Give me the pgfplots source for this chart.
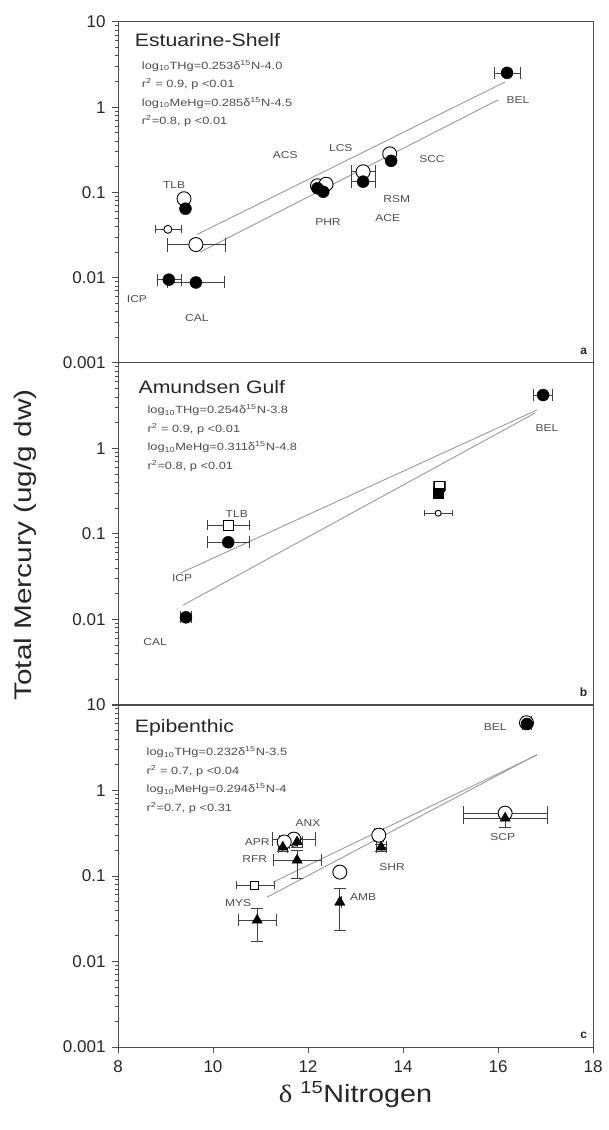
\documentclass[border=0pt]{standalone}
\usepackage{pgfplots}
\pgfplotsset{compat=1.18}
\usepackage{graphicx}
\usepackage{fontspec}
\setmainfont{Liberation Sans}
\newfontfamily\seriffont{Liberation Serif}
\definecolor{axgray}{gray}{0.3}
\definecolor{labgray}{gray}{0.3}
\definecolor{reggray}{gray}{0.6}
\newcommand\sx[2][1.2]{\scalebox{#1}[1]{#2}}
\newcommand\eqblock[4]{\sx[1.22]{\begin{tabular}{@{}l@{}}#1\\#2\\#3\\#4\end{tabular}}}
\tikzset{
  mylab/.style={font=\fontsize{10}{10}\selectfont, text=labgray},
  myttl/.style={anchor=base west, font=\fontsize{18}{18}\selectfont, text=black!85},
  myeqn/.style={anchor=north west, inner sep=0pt, font=\fontsize{10.5}{18.5}\selectfont, text=labgray},
  mytag/.style={anchor=south east, font=\bfseries\fontsize{12}{12}\selectfont, text=black!85},
}
\pgfplotsset{
  every axis/.append style={
    scale only axis, width=475pt, height=342pt,
    xmin=8, xmax=18, ymin=0.001, ymax=10,
    ytick={0.001,0.01,0.1,1,10},
    tick align=outside, xtick pos=bottom, ytick pos=left,
    major tick length=6pt,
    axis line style={axgray, line width=1pt},
    tick style={axgray, line width=1pt},
    tick label style={font=\fontsize{17}{17}\selectfont, text=black!85},
    yticklabel style={xshift=-3pt},
    xticklabel style={yshift=-4pt},
    clip=false,
  },
  /pgfplots/myreg/.style={reggray, line width=0.9pt, no marks},
  /pgfplots/myfc/.style={only marks, mark=*, mark size=6pt, black},
  /pgfplots/myoc/.style={only marks, mark=*, mark size=7pt, black, mark options={draw=black, fill=white, line width=0.9pt}},
  /pgfplots/myft/.style={only marks, mark=triangle*, mark size=6pt, black},
  /pgfplots/myos/.style={only marks, mark=square*, mark size=5pt, black, mark options={draw=black, fill=white, line width=0.9pt}},
}
\begin{document}
\begin{tikzpicture}
\path[use as bounding box] (0,0) rectangle (608pt,1130pt);

% ---------------- Panel a ----------------
\begin{semilogyaxis}[at={(118pt,767pt)}, anchor=south west, height=341pt,
  xtick=\empty, yticklabels={0.001,0.01,0.1,1,10}]
\addplot[myreg] coordinates {(9.66,0.0321) (16.15,1.98)};
\addplot[myreg] coordinates {(9.73,0.020) (16.0,1.22)};
\addplot[myoc, error bars/.cd, x dir=both, x explicit, error bar style={black!75, line width=0.7pt}] table[x=x,y=y,x error=ex] {
x y ex
9.64 0.0245 0.61
13.16 0.175 0.25
};
\addplot[myoc, mark size=4pt, error bars/.cd, x dir=both, x explicit, error bar style={black!75, line width=0.7pt}] table[x=x,y=y,x error=ex] {
x y ex
9.05 0.037 0.27
};
\addplot[myoc] table {
x y
13.72 0.284
12.2 0.12
12.38 0.125
9.39 0.0845
};
\addplot[myfc, error bars/.cd, x dir=both, x explicit, error bar style={black!75, line width=0.7pt}] table[x=x,y=y,x error=ex] {
x y ex
16.19 2.53 0.27
9.64 0.0088 0.6
9.07 0.0095 0.25
13.16 0.134 0.25
};
\addplot[myfc] table {
x y
13.75 0.235
12.32 0.102
12.2 0.112
9.42 0.0645
};
\node[myttl] at (rel axis cs:0.028,0.927) {\sx[1.18]{Estuarine-Shelf}};
\node[myeqn] at (rel axis cs:0.05,0.9) {\eqblock{log\textsubscript{10}THg=0.253δ\textsuperscript{15}N-4.0}{r\textsuperscript{2} = 0.9, p <0.01}{log\textsubscript{10}MeHg=0.285δ\textsuperscript{15}N-4.5}{r\textsuperscript{2}=0.8, p <0.01}};
\node[mylab] at (axis cs:16.42,1.22) {\sx{BEL}};
\node[mylab] at (axis cs:14.61,0.249) {\sx{SCC}};
\node[mylab] at (axis cs:13.87,0.0845) {\sx{RSM}};
\node[mylab] at (axis cs:13.68,0.0507) {\sx{ACE}};
\node[mylab] at (axis cs:12.42,0.0455) {\sx{PHR}};
\node[mylab] at (axis cs:11.52,0.277) {\sx{ACS}};
\node[mylab] at (axis cs:12.69,0.335) {\sx{LCS}};
\node[mylab] at (axis cs:9.18,0.123) {\sx{TLB}};
\node[mylab] at (axis cs:8.4,0.00556) {\sx{ICP}};
\node[mylab] at (axis cs:9.66,0.00333) {\sx{CAL}};
\node[mytag] at (rel axis cs:0.995,0.015) {a};
\end{semilogyaxis}

% ---------------- Panel b ----------------
\begin{semilogyaxis}[at={(118pt,425pt)}, anchor=south west,
  xtick=\empty, yticklabels={,0.01,0.1,1,}]
\addplot[myreg] coordinates {(9.31,0.0348) (16.82,2.82)};
\addplot[myreg] coordinates {(9.37,0.0147) (16.78,2.60)};
\addplot[myos, error bars/.cd, x dir=both, x explicit, error bar style={black!75, line width=0.7pt}] table[x=x,y=y,x error=ex] {
x y ex
10.32 0.127 0.45
14.76 0.363 0.12
};
\addplot[myoc, mark size=3pt, error bars/.cd, x dir=both, x explicit, error bar style={black!75, line width=0.7pt}] table[x=x,y=y,x error=ex] {
x y ex
14.74 0.175 0.3
};
\addplot[myfc, error bars/.cd, x dir=both, x explicit, error bar style={black!75, line width=0.7pt}] table[x=x,y=y,x error=ex] {
x y ex
16.95 4.22 0.2
10.32 0.080 0.45
9.43 0.0106 0.12
};
\addplot[only marks, mark=square*, mark size=5pt, black] table {
x y
14.74 0.30
};
\node[myttl] at (rel axis cs:0.036,0.912) {\sx[1.18]{Amundsen Gulf}};
\node[myeqn] at (rel axis cs:0.062,0.89) {\eqblock{log\textsubscript{10}THg=0.254δ\textsuperscript{15}N-3.8}{r\textsuperscript{2} = 0.9, p <0.01}{log\textsubscript{10}MeHg=0.311δ\textsuperscript{15}N-4.8}{r\textsuperscript{2}=0.8, p <0.01}};
\node[mylab] at (axis cs:17.03,1.73) {\sx{BEL}};
\node[mylab] at (axis cs:10.5,0.171) {\sx{TLB}};
\node[mylab] at (axis cs:9.35,0.0304) {\sx{ICP}};
\node[mylab] at (axis cs:8.78,0.0054) {\sx{CAL}};
\node[mytag] at (rel axis cs:0.995,0.015) {b};
\end{semilogyaxis}

% ---------------- Panel c ----------------
\begin{semilogyaxis}[at={(118pt,83pt)}, anchor=south west,
  xtick={8,10,12,14,16,18}, xticklabels={8,10,12,14,16,18},
  yticklabels={0.001,0.01,0.1,1,10},
  xlabel={\sx[1.15]{{\seriffont δ} \textsuperscript{15}Nitrogen}},
  xlabel style={font=\fontsize{25}{25}\selectfont, text=black!85, yshift=-2pt}]
\addplot[myreg] coordinates {(11.26,0.0845) (16.82,2.60)};
\addplot[myreg] coordinates {(11.14,0.0565) (16.82,2.63)};
\addplot[myoc, error bars/.cd, x dir=both, x explicit, error bar style={black!75, line width=0.7pt}] table[x=x,y=y,x error=ex] {
x y ex
16.6 6.2 0.1
16.15 0.543 0.88
13.49 0.30 0.1
11.7 0.27 0.45
11.5 0.25 0.1
12.67 0.111 0.05
};
\addplot[myos, mark size=4pt, error bars/.cd, x dir=both, x explicit, error bar style={black!75, line width=0.7pt}] table[x=x,y=y,x error=ex] {
x y ex
10.88 0.078 0.4
};
\addplot[myft, error bars/.cd, x dir=both, x explicit, y dir=both, y explicit, error bar style={black!75, line width=0.7pt}] table[x=x,y=y,x error=ex,y error plus=ep,y error minus=em] {
x y ex ep em
16.15 0.475 0.88 0.1 0.1
13.54 0.217 0.1 0.02 0.02
11.77 0.25 0.1 0.03 0.03
11.47 0.217 0.1 0.02 0.02
11.77 0.153 0.5 0.05 0.059
10.93 0.0304 0.4 0.012 0.013
12.67 0.0493 0.02 0.023 0.026
};
\addplot[myfc] table {
x y
16.61 6.0
};
\node[myttl] at (rel axis cs:0.028,0.92) {\sx[1.18]{Epibenthic}};
\node[myeqn] at (rel axis cs:0.06,0.89) {\eqblock{log\textsubscript{10}THg=0.232δ\textsuperscript{15}N-3.5}{r\textsuperscript{2} = 0.7, p <0.04}{log\textsubscript{10}MeHg=0.294δ\textsuperscript{15}N-4}{r\textsuperscript{2}=0.7, p <0.31}};
\node[mylab] at (axis cs:15.94,5.5) {\sx{BEL}};
\node[mylab] at (axis cs:16.1,0.284) {\sx{SCP}};
\node[mylab] at (axis cs:13.77,0.127) {\sx{SHR}};
\node[mylab] at (axis cs:12.0,0.415) {\sx{ANX}};
\node[mylab] at (axis cs:10.93,0.249) {\sx{APR}};
\node[mylab] at (axis cs:10.88,0.157) {\sx{RFR}};
\node[mylab] at (axis cs:10.53,0.048) {\sx{MYS}};
\node[mylab] at (axis cs:13.16,0.0565) {\sx{AMB}};
\node[mytag] at (rel axis cs:0.995,0.015) {c};
\end{semilogyaxis}

\node[rotate=90, font=\fontsize{24}{24}\selectfont, text=black!85] at (25pt,585pt) {\sx[1.24]{Total Mercury (ug/g dw)}};
\end{tikzpicture}
\end{document}
